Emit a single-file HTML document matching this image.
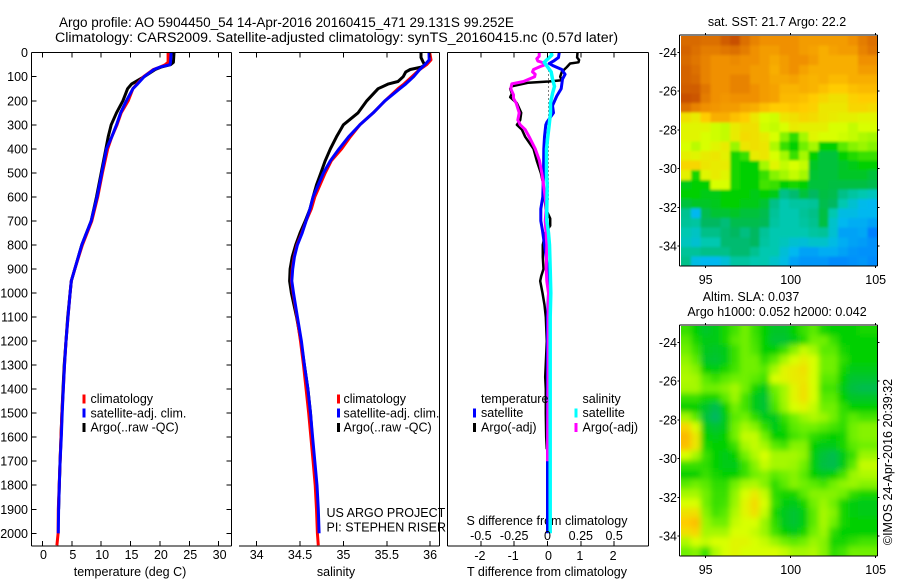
<!DOCTYPE html>
<html lang="en">
<head>
<meta charset="utf-8">
<title>Argo profile</title>
<style>
html,body{margin:0;padding:0;background:#fff;}
body{width:900px;height:580px;overflow:hidden;}
svg{display:block;font-family:"Liberation Sans",sans-serif;fill:#000;}
text{font-size:12.5px;}
</style>
</head>
<body>
<svg id="chart" width="900" height="580" viewBox="0 0 900 580" xmlns="http://www.w3.org/2000/svg">
<rect x="0" y="0" width="900" height="580" fill="#fff"/>
<text x="59" y="27" style="font-size:13.5px">Argo profile: AO 5904450_54 14-Apr-2016 20160415_471 29.131S 99.252E</text>
<text x="55" y="42" style="font-size:14.2px">Climatology: CARS2009. Satellite-adjusted climatology: synTS_20160415.nc (0.57d later)</text>
<text x="777" y="26" text-anchor="middle">sat. SST: 21.7 Argo: 22.2</text>
<text x="751" y="301" text-anchor="middle">Altim. SLA: 0.037</text>
<text x="777" y="316" text-anchor="middle">Argo h1000: 0.052 h2000: 0.042</text>
<text transform="translate(892,462) rotate(-90)" text-anchor="middle">©IMOS 24-Apr-2016 20:39:32</text>
<text x="130" y="576" text-anchor="middle">temperature (deg C)</text>
<text x="336" y="576" text-anchor="middle">salinity</text>
<text x="547" y="576" text-anchor="middle">T difference from climatology</text>
<text x="547" y="525" text-anchor="middle">S difference from climatology</text>
<text x="326.5" y="517">US ARGO PROJECT</text>
<text x="326.5" y="531.5">PI: STEPHEN RISER</text>
<defs>
<filter id="blurSst" x="-5%" y="-5%" width="110%" height="110%"><feGaussianBlur stdDeviation="1.3"/></filter>
<filter id="blurSla" x="-5%" y="-5%" width="110%" height="110%"><feGaussianBlur stdDeviation="3"/></filter>
<clipPath id="clipSst"><rect x="681" y="36" width="196.5" height="230"/></clipPath>
<clipPath id="clipSla"><rect x="681" y="326" width="196.5" height="230"/></clipPath>
</defs>
</svg>
<script>
// ---- profile data ----
const depthTemp = [0,40,50,60,70,100,130,150,200,250,300,350,400,500,600,700,800,900,950,1000,1100,1200,1300,1400,1500,1600,1700,1800,1900,2000,2050];
const tempArgo = [22.4,22.3,21.8,20.2,19.2,17.3,15.2,14.5,13.7,12.6,11.7,11.2,10.8,10.0,9.2,8.3,6.7,5.5,4.9,4.7,4.3,4.0,3.7,3.5,3.3,3.15,3.0,2.87,2.75];
const tempClim = [21.4,21.4,20.9,20.0,18.9,17.2,16.1,15.4,14.6,13.4,12.7,11.8,11.1,10.2,9.4,8.4,6.8,5.5,4.9,4.7,4.35,4.0,3.75,3.55,3.3,3.15,3.0,2.85,2.7,2.65,2.45];
const tempSat = [21.9,21.8,21.7,20.0,19.0,17.3,16.2,15.4,14.3,13.3,12.6,11.8,10.9,10.1,9.3,8.3,6.7,5.5,4.9,4.7,4.35,4.0,3.75,3.55,3.35,3.2,3.0,2.87,2.75,2.7];

const depthSal = [0,30,50,70,100,130,150,200,250,300,350,400,450,500,550,600,650,700,750,800,850,900,950,1000,1100,1200,1300,1400,1500,1600,1700,1800,1900,2000,2050];
const salClim = [35.995,36.01,35.96,35.88,35.79,35.70,35.63,35.48,35.345,35.19,35.08,34.98,34.86,34.79,34.73,34.67,34.63,34.57,34.52,34.465,34.43,34.41,34.40,34.42,34.465,34.505,34.54,34.57,34.60,34.625,34.65,34.675,34.69,34.70,34.71];
const salSat = [35.987,35.99,35.94,35.88,35.81,35.72,35.65,35.48,35.345,35.19,35.06,34.95,34.85,34.77,34.71,34.65,34.615,34.57,34.525,34.47,34.435,34.415,34.405,34.425,34.47,34.515,34.55,34.59,34.62,34.645,34.67,34.695,34.71,34.72];
const depthSalArgo = [0,20,40,50,60,70,80,100,120,130,150,200,250,300,350,400,450,500,550,600,650,700,750,800,850,900,950,1000,1100,1200,1300,1400,1500,1600,1700,1800,1900];
const salArgo = [35.895,35.895,35.92,35.94,35.90,35.77,35.72,35.69,35.63,35.52,35.40,35.27,35.17,35.0,34.92,34.85,34.79,34.74,34.69,34.65,34.615,34.56,34.50,34.45,34.41,34.385,34.38,34.40,34.46,34.51,34.55,34.59,34.62,34.64,34.665,34.69,34.70];

const depthDiffTempArgo = [0,20,30,40,45,60,80,100,115,120,125,140,150,170,185,210,250,280,300,320,350,400,450,500,550,600,650,690,720,750,800,850,900,930,950,1000,1050,1100,1200,1350,1400,1500,1600,1650];
const diffTempArgo = [0.90,0.89,0.95,0.93,0.68,0.58,0.43,0.38,0.43,0.03,-0.57,-1.07,-1.12,-1.07,-1.12,-0.92,-0.79,-0.82,-0.92,-0.77,-0.67,-0.42,-0.32,-0.2,-0.12,-0.09,-0.05,0.08,0.08,-0.07,-0.14,-0.14,-0.12,-0.19,-0.22,-0.15,-0.09,-0.05,-0.02,-0.07,-0.05,-0.05,-0.04,-0.02];
const depthDiffTempSat = [0,20,35,45,55,70,90,110,150,180,220,250,290,300,350,400,500,600,650,700,740,780,900,1000,1100,2000];
const diffTempSat = [0.35,0.33,0.18,0.05,0.18,0.43,0.53,0.45,0.41,0.28,0.15,0.18,-0.02,-0.05,-0.09,-0.11,-0.12,-0.14,-0.2,-0.2,-0.15,-0.11,0.01,0.03,0.0,0.0];
const depthDiffSalArgo = [0,15,25,35,42,50,55,70,80,90,100,120,130,150,175,190,210,250,280,300,320,350,400,450,500,550,600,650,700,800,900,950,1000,1100,1300,1700];
const diffSalArgo = [-0.0625,-0.0625,-0.08,-0.072,-0.03,-0.0175,-0.0425,-0.105,-0.1125,-0.0925,-0.097,-0.18,-0.2675,-0.275,-0.255,-0.255,-0.235,-0.2125,-0.2225,-0.205,-0.1675,-0.1375,-0.0925,-0.06,-0.0425,-0.03,-0.0175,-0.01,-0.0175,-0.005,-0.01,-0.005,0.0075,0.005,0.005,0.0];
const depthDiffSalSat = [0,10,30,40,55,80,110,140,170,210,250,300,350,400,500,550,650,700,750,800,900,1000,1100,2000];
const diffSalSat = [0.0275,0.0325,-0.005,-0.025,-0.005,0.0275,0.0375,0.0525,0.0375,0.0225,0.0225,0.0125,0.0025,-0.0075,-0.0075,-0.0025,-0.005,-0.005,0.0075,0.015,0.02,0.025,0.02,0.02];

// ---- tick labels ----
const depthTicks = [0,100,200,300,400,500,600,700,800,900,1000,1100,1200,1300,1400,1500,1600,1700,1800,1900,2000];
const tempTicks = [0,5,10,15,20,25,30];
const salTicks = [34,34.5,35,35.5,36];
const diffTempTicks = [-2,-1,0,1,2];
const diffSalTicks = [-0.5,-0.25,0,0.25,0.5];
const lonTicks = [95,100,105];
const latTicks = [24,26,28,30,32,34];

// ---- map data: colour-scale index, 0 (dark blue) .. 10 (red-orange) ----
const colorStops = ['#2020c0','#0080ff','#00b8f0','#00c8b0','#00b860','#00d000','#70f000','#d8ff00','#ffcc00','#f09000','#c85000'];
const sstGrid = [
[9.6,9.6,9.5,9.5,9.8,10,9.5,9.2,9.0,9.0,9.0,9.0,8.8,8.8,8.8,8.8,8.8,9.0,9.3,9.5],
[9.7,9.5,9.3,9.3,9.4,9.5,9.3,9.0,8.8,8.8,9.0,9.0,8.8,8.7,8.5,8.7,8.8,8.8,9.2,9.4],
[9.6,9.4,9.2,9.0,9.0,9.1,9.0,9.0,8.8,8.6,8.8,9.0,9.0,8.8,8.5,8.5,8.5,8.5,9.0,9.0],
[9.7,9.5,9.2,9.0,9.0,9.0,9.0,8.8,8.8,8.5,8.8,9.0,8.7,8.5,8.5,8.5,8.5,8.5,8.8,8.8],
[9.7,9.6,9.2,9.0,9.0,9.2,9.2,8.8,8.8,8.6,8.6,8.7,8.5,8.4,8.5,8.3,8.3,8.5,8.5,8.5],
[9.8,9.8,9.4,9.0,9.0,9.2,9.2,9.0,8.8,8.7,8.4,8.4,8.5,8.4,8.2,8.0,8.0,8.2,8.3,8.3],
[10,9.9,9.3,9.0,8.9,9.0,9.0,9.0,8.8,8.7,8.3,8.3,8.2,8.0,7.8,7.6,7.6,7.9,8.0,8.0],
[9.5,9.2,9.0,8.9,8.8,8.8,8.6,8.5,8.2,8.0,8.0,8.1,8.0,7.9,7.5,7.5,7.5,7.8,7.8,7.7],
[7.6,7.4,8.0,8.5,8.5,8.2,8.0,7.5,7.0,6.9,7.5,7.6,7.8,7.7,7.5,7.4,7.3,7.3,7.2,7.2],
[7.2,7.2,7.2,6.9,6.8,7.4,7.6,7.6,6.9,6.8,7.0,7.4,7.3,7.3,7.3,7.0,7.0,6.8,7.0,7.0],
[7.2,7.2,7.0,6.9,6.8,7.4,7.7,7.6,7.4,7.0,6.2,5.4,6.5,7.2,7.0,7.0,6.9,6.8,6.6,6.5],
[7.0,6.7,7.0,7.2,7.4,6.4,7.5,7.6,7.5,6.6,5.5,5.0,6.0,6.5,5.0,5.0,5.8,6.2,6.4,6.2],
[7.3,7.2,7.4,7.5,7.3,5.2,5.5,7.4,7.5,7.0,6.5,5.5,6.5,5.0,4.4,4.4,5.0,5.3,5.5,5.5],
[7.8,7.8,7.5,7.4,7.4,5.2,5.0,5.0,6.5,7.2,6.8,7.0,6.8,4.6,4.4,4.4,4.6,4.8,5.0,5.0],
[7.3,5.2,7.2,7.4,7.2,5.2,5.0,5.0,5.5,6.2,6.5,6.8,6.5,4.5,4.4,4.4,4.6,4.6,4.6,4.4],
[4.8,5.0,5.0,7.0,7.0,5.2,5.0,5.0,5.6,5.5,5.0,5.2,5.0,4.4,4.4,4.3,4.3,4.3,4.3,4.2],
[5.0,5.0,4.8,4.8,5.0,5.0,5.0,4.8,5.0,4.8,3.5,3.8,4.4,4.0,4.3,4.2,3.5,3.2,3.0,2.8],
[4.4,4.6,4.6,4.7,5.0,5.0,4.8,4.8,4.5,3.5,3.0,3.2,3.2,3.3,4.2,4.0,3.0,2.5,2.1,2.0],
[3.4,2.0,4.2,4.5,4.5,4.6,4.4,4.4,4.2,3.3,3.0,3.0,3.3,3.5,4.3,3.0,2.2,2.2,2.0,2.0],
[3.3,3.2,4.0,4.0,3.7,4.2,4.2,4.2,4.1,3.2,3.0,3.0,3.2,3.4,4.3,2.6,2.0,1.8,1.8,1.6],
[3.0,2.7,3.5,3.5,3.8,4.0,3.6,4.0,3.3,3.0,3.0,3.0,3.0,3.2,3.3,2.5,1.6,1.6,1.7,1.0],
[2.8,2.5,3.0,3.0,3.8,3.8,3.8,4.0,3.2,3.0,2.8,2.5,2.4,2.6,2.6,2.2,1.8,1.6,1.5,1.3],
[3.3,3.3,3.5,3.5,3.5,3.8,3.8,3.4,3.0,3.0,2.4,2.0,1.6,1.6,1.8,1.8,1.6,1.4,1.3,1.3],
[3.5,2.2,2.0,2.0,2.4,3.2,3.2,3.0,3.0,2.6,2.2,1.6,1.4,1.4,1.4,1.2,1.2,1.3,1.4,1.2]
];
const slaGrid = [
[5.5,5.0,4.6,4.8,5.2,5.6,6.0,5.5,5.0,4.6,4.6,5.0,5.5,5.8,5.2,5.0,5.0,5.0,5.2,5.2],
[5.8,5.2,4.8,4.8,5.2,5.8,6.0,5.6,5.0,4.5,4.5,4.8,5.3,6.0,6.0,5.5,5.0,5.0,5.0,5.0],
[6.0,5.5,4.7,4.6,4.8,5.5,6.0,5.7,5.0,5.0,5.5,6.2,6.8,6.5,5.8,5.8,5.2,5.0,5.0,5.0],
[6.3,5.8,4.6,4.5,4.8,5.5,6.0,6.0,5.4,5.8,6.5,7.0,7.3,7.0,6.0,6.0,5.4,5.0,5.0,5.0],
[6.5,6.2,5.0,4.9,5.2,5.6,6.0,6.0,5.8,6.5,7.2,7.4,7.6,7.0,6.0,6.0,5.2,4.8,4.8,4.8],
[6.6,6.5,5.8,5.5,5.8,6.0,6.0,5.8,5.6,7.0,7.2,7.4,7.5,7.0,5.8,5.8,5.0,4.5,4.5,4.5],
[6.5,6.5,6.0,6.0,6.2,6.5,6.0,5.2,4.8,6.0,6.5,7.2,7.6,7.0,5.6,5.6,4.8,4.3,4.2,4.2],
[5.5,5.5,5.2,5.2,5.8,6.4,5.6,4.8,4.5,5.8,6.5,7.2,7.6,7.0,5.8,5.8,5.0,4.6,4.6,4.6],
[5.0,5.0,4.6,4.2,5.0,6.0,5.6,4.8,4.5,5.6,6.4,7.0,7.2,6.8,6.0,6.0,5.4,5.0,5.0,5.0],
[6.5,5.8,4.4,4.0,4.8,5.8,6.0,5.4,4.8,4.7,5.5,6.0,6.4,6.6,6.4,6.0,5.5,5.8,5.6,5.6],
[7.8,7.0,4.8,4.5,4.8,6.0,6.5,6.2,5.4,4.8,5.2,5.8,6.0,6.0,5.8,5.6,5.4,6.0,6.2,6.2],
[8.3,7.5,5.0,4.8,5.0,6.0,6.8,6.8,6.0,5.0,5.0,5.6,5.8,5.4,5.2,5.0,5.2,6.0,6.2,6.2],
[8.2,7.5,5.2,5.0,5.0,5.5,6.5,6.8,6.5,5.8,5.6,6.2,6.2,5.0,4.8,4.8,5.2,5.8,6.0,6.0],
[7.0,6.5,5.5,5.0,4.8,5.0,6.0,6.6,7.0,6.5,6.5,6.5,6.3,4.9,4.4,4.2,4.8,5.5,6.4,6.4],
[5.5,5.5,5.4,5.0,4.8,4.8,5.5,6.2,6.8,6.5,6.5,6.4,6.0,4.9,4.3,4.2,4.8,5.8,6.8,6.8],
[5.0,5.0,5.5,5.2,5.0,5.0,5.5,6.0,6.2,5.8,6.0,6.2,5.8,5.0,4.8,5.0,5.6,6.4,6.6,6.6],
[5.8,6.0,5.8,5.4,5.4,6.0,6.5,6.6,6.2,5.4,5.8,6.2,6.0,5.8,5.6,6.0,6.3,6.4,6.2,6.2],
[6.5,6.5,6.0,5.5,5.5,6.3,7.0,7.4,6.8,5.4,5.2,5.2,5.8,6.2,6.2,6.2,6.0,5.4,5.2,5.2],
[7.0,7.0,6.0,5.5,5.6,6.4,7.2,7.7,7.0,5.5,4.9,4.8,5.2,6.0,6.4,6.0,5.2,4.9,4.8,4.8],
[7.6,7.6,6.2,5.6,5.8,6.6,7.2,7.6,6.8,5.2,4.7,4.5,4.9,5.8,6.5,6.2,5.2,4.9,4.8,4.8],
[8.0,8.2,6.4,6.0,6.0,6.8,7.0,7.0,6.4,5.4,4.7,4.5,4.9,5.8,6.5,6.0,5.2,5.0,5.0,5.0],
[7.6,7.8,6.5,6.5,6.5,7.0,7.0,6.8,6.4,5.6,5.0,4.8,5.2,6.0,6.4,5.4,5.0,5.0,5.0,5.0],
[6.6,7.0,6.8,7.0,7.0,7.2,7.2,7.0,6.8,6.4,6.0,5.8,6.0,6.4,6.2,5.2,5.2,5.4,5.6,5.6],
[6.0,6.2,5.5,6.6,7.0,7.2,7.0,7.0,7.0,7.0,6.8,6.5,6.5,6.6,6.2,5.4,5.6,6.0,6.0,6.0]
];

// ---- drawing ----
const svg = document.getElementById('chart');
const NS = 'http://www.w3.org/2000/svg';
const PLOT_TOP = 52.5, PLOT_BOTTOM = 546;

function yDepth(p){ return 52.7 + 0.2403 * p; }
function xTemp(t){ return 42.5 + 5.87 * t; }
function xSal(s){ return 256.7 + 86.7 * (s - 34); }
function xDiffT(d){ return 547.5 + 33.3 * d; }
function xDiffS(d){ return 547.5 + 133.3 * d; }

function make(tag, name, parent){
  const el = document.createElementNS(NS, tag);
  
  
  (parent || svg).appendChild(el);
  return el;
}
function seg(name, x1, y1, x2, y2, parent){
  const l = make('line', name, parent);
  l.setAttribute('x1', x1);
  l.setAttribute('y1', y1);
  l.setAttribute('x2', x2);
  l.setAttribute('y2', y2);
  l.setAttribute('stroke', '#000');
  l.setAttribute('stroke-width', 1);
  l.setAttribute('shape-rendering', 'crispEdges');
  return l;
}
function label(name, str, x, y, anchor, parent){
  const t = make('text', name, parent);
  t.setAttribute('x', x);
  t.setAttribute('y', y);
  t.setAttribute('text-anchor', anchor || 'start');
  t.textContent = str;
  return t;
}
function series(name, color, width, depths, vals, xf, parent){
  const p = make('polyline', name, parent);
  const pts = [];
  for (let i = 0; i < vals.length; i++) pts.push(xf(vals[i]).toFixed(1) + ',' + yDepth(depths[i]).toFixed(1));
  p.setAttribute('points', pts.join(' '));
  p.setAttribute('fill', 'none');
  p.setAttribute('stroke', color);
  p.setAttribute('stroke-width', width);
  p.setAttribute('stroke-linejoin', 'round');
  return p;
}
function swatch(name, color, x, y, parent){
  const r = make('rect', name, parent);
  r.setAttribute('x', x);
  r.setAttribute('y', y);
  r.setAttribute('width', 3);
  r.setAttribute('height', 9);
  r.setAttribute('fill', color);
  r.setAttribute('shape-rendering', 'crispEdges');
}

// panel 1: temperature
const gT = make('g', 'temperature-panel');
series('temperature-argo-line', '#000', 3, depthTemp, tempArgo, xTemp, gT);
series('temperature-climatology-line', '#f00', 3, depthTemp, tempClim, xTemp, gT);
series('temperature-satellite-line', '#00f', 3, depthTemp, tempSat, xTemp, gT);
seg('temperature-axis-top', 31.5, PLOT_TOP, 231.5, PLOT_TOP, gT);
seg('temperature-axis-bottom', 31.5, PLOT_BOTTOM, 231.5, PLOT_BOTTOM, gT);
seg('temperature-axis-left', 31.5, PLOT_TOP, 31.5, PLOT_BOTTOM, gT);
seg('temperature-axis-right', 231.5, PLOT_TOP, 231.5, PLOT_BOTTOM, gT);
depthTicks.forEach(function(p){
  const y = yDepth(p);
  seg('depth-tick-left', 31.5, y, 36.5, y, gT);
  seg('depth-tick-right', 226.5, y, 231.5, y, gT);
  label('depth-tick-label', String(p), 28, y + 4.5, 'end', gT);
});
tempTicks.forEach(function(t){
  const x = xTemp(t);
  seg('temperature-tick-bottom', x, 541, x, PLOT_BOTTOM, gT);
  seg('temperature-tick-top', x, PLOT_TOP, x, 57.5, gT);
  label('temperature-tick-label', String(t), x + 1, 559, 'middle', gT);
});
const legendT = make('g', 'temperature-legend', gT);
swatch('legend-swatch-climatology', '#f00', 82.5, 394.5, legendT);
label('legend-label-climatology', 'climatology', 90.5, 403, 'start', legendT);
swatch('legend-swatch-satellite', '#00f', 82.5, 408.5, legendT);
label('legend-label-satellite', 'satellite-adj. clim.', 90.5, 417.5, 'start', legendT);
swatch('legend-swatch-argo', '#000', 82.5, 423, legendT);
label('legend-label-argo', 'Argo(..raw -QC)', 90.5, 431.5, 'start', legendT);

// panel 2: salinity
const gS = make('g', 'salinity-panel');
series('salinity-argo-line', '#000', 3, depthSalArgo, salArgo, xSal, gS);
series('salinity-climatology-line', '#f00', 3, depthSal, salClim, xSal, gS);
series('salinity-satellite-line', '#00f', 3, depthSal, salSat, xSal, gS);
seg('salinity-axis-top', 239, PLOT_TOP, 439.5, PLOT_TOP, gS);
seg('salinity-axis-bottom', 239, PLOT_BOTTOM, 439.5, PLOT_BOTTOM, gS);
seg('salinity-axis-right', 439.5, PLOT_TOP, 439.5, PLOT_BOTTOM, gS);
salTicks.forEach(function(s){
  const x = xSal(s);
  seg('salinity-tick-bottom', x, 541, x, PLOT_BOTTOM, gS);
  seg('salinity-tick-top', x, PLOT_TOP, x, 57.5, gS);
  label('salinity-tick-label', String(s), x, 559, 'middle', gS);
});
const legendS = make('g', 'salinity-legend', gS);
swatch('legend-swatch-climatology', '#f00', 337, 394.5, legendS);
label('legend-label-climatology', 'climatology', 343.5, 403, 'start', legendS);
swatch('legend-swatch-satellite', '#00f', 337, 408.5, legendS);
label('legend-label-satellite', 'satellite-adj. clim.', 343.5, 417.5, 'start', legendS);
swatch('legend-swatch-argo', '#000', 337, 423, legendS);
label('legend-label-argo', 'Argo(..raw -QC)', 343.5, 431.5, 'start', legendS);

// panel 3: differences
const gD = make('g', 'difference-panel');
const zero = seg('zero-difference-line', xDiffT(0) + 1, yDepth(40), xDiffT(0) + 1, yDepth(620), gD);
zero.setAttribute('stroke-dasharray', '1 3');
series('t-diff-argo-line', '#000', 2.5, depthDiffTempArgo, diffTempArgo, xDiffT, gD);
series('t-diff-satellite-line', '#00f', 3, depthDiffTempSat, diffTempSat, xDiffT, gD);
series('s-diff-argo-line', '#f0f', 3, depthDiffSalArgo, diffSalArgo, xDiffS, gD);
series('s-diff-satellite-line', '#0ff', 3.5, depthDiffSalSat, diffSalSat, xDiffS, gD);
seg('difference-axis-top', 447.5, PLOT_TOP, 648.5, PLOT_TOP, gD);
seg('difference-axis-bottom', 447.5, PLOT_BOTTOM, 648.5, PLOT_BOTTOM, gD);
seg('difference-axis-left', 447.5, PLOT_TOP, 447.5, PLOT_BOTTOM, gD);
seg('difference-axis-right', 648.5, PLOT_TOP, 648.5, PLOT_BOTTOM, gD);
diffTempTicks.forEach(function(d){
  const x = xDiffT(d);
  seg('t-difference-tick-bottom', x, 541, x, PLOT_BOTTOM, gD);
  seg('t-difference-tick-top', x, PLOT_TOP, x, 57.5, gD);
  label('t-difference-tick-label', String(d), x + (d === 0 ? 1 : -1), 560, 'middle', gD);
});
diffSalTicks.forEach(function(d){
  label('s-difference-tick-label', String(d), xDiffS(d), 540, 'middle', gD);
});
const legendD = make('g', 'difference-legend', gD);
label('legend-heading-temperature', 'temperature', 481, 403, 'start', legendD);
swatch('legend-swatch-t-satellite', '#00f', 473, 408.5, legendD);
label('legend-label-t-satellite', 'satellite', 481, 417, 'start', legendD);
swatch('legend-swatch-t-argo', '#000', 473, 423, legendD);
label('legend-label-t-argo', 'Argo(-adj)', 481, 431.5, 'start', legendD);
label('legend-heading-salinity', 'salinity', 582.5, 403, 'start', legendD);
swatch('legend-swatch-s-satellite', '#0ff', 574.5, 408.5, legendD);
label('legend-label-s-satellite', 'satellite', 582.5, 417, 'start', legendD);
swatch('legend-swatch-s-argo', '#f0f', 574.5, 423, legendD);
label('legend-label-s-argo', 'Argo(-adj)', 582.5, 431.5, 'start', legendD);

// maps
function colorOf(v){
  const c = Math.max(0, Math.min(10, v));
  const i = Math.min(9, Math.floor(c));
  const f = c - i;
  const a = colorStops[i], b = colorStops[i + 1];
  let out = '#';
  for (let k = 1; k < 7; k += 2) {
    const va = parseInt(a.substr(k, 2), 16), vb = parseInt(b.substr(k, 2), 16);
    out += Math.round(va + (vb - va) * f).toString(16).padStart(2, '0');
  }
  return out;
}
function xLon(lon){ return 705.7 + 17 * (lon - 95); }
function drawMap(prefix, grid, top, lat24y, clipId, blurId){
  const g = make('g', prefix + '-map');
  const left = 681, right = 877.5, bottom = top + 231;
  const nr = grid.length, nc = grid[0].length;
  const cw = (right - left) / nc, ch = (bottom - top - 1) / nr;
  const clip = make('g', prefix + '-map-clip', g);
  clip.setAttribute('clip-path', 'url(#' + clipId + ')');
  const cells = make('g', prefix + '-cells', clip);
  cells.setAttribute('filter', 'url(#' + blurId + ')');
  const bleed = 14;
  for (let r = 0; r < nr; r++) {
    for (let c = 0; c < nc; c++) {
      const x0 = left + c * cw - (c === 0 ? bleed : 0);
      const x1 = left + (c + 1) * cw + (c === nc - 1 ? bleed : 0.5);
      const y0 = top + 1 + r * ch - (r === 0 ? bleed : 0);
      const y1 = top + 1 + (r + 1) * ch + (r === nr - 1 ? bleed : 0.5);
      const cell = make('rect', prefix + '-cell', cells);
      cell.setAttribute('x', x0.toFixed(2));
      cell.setAttribute('y', y0.toFixed(2));
      cell.setAttribute('width', (x1 - x0).toFixed(2));
      cell.setAttribute('height', (y1 - y0).toFixed(2));
      cell.setAttribute('fill', colorOf(grid[r][c]));
      cell.setAttribute('shape-rendering', 'crispEdges');
    }
  }
  seg(prefix + '-frame-top', 679.5, top, 877.5, top, g);
  seg(prefix + '-frame-bottom', 679.5, bottom, 877.5, bottom, g);
  seg(prefix + '-frame-left', 679.5, top, 679.5, bottom, g);
  seg(prefix + '-frame-right', 877.5, top, 877.5, bottom, g);
  lonTicks.forEach(function(lon){
    const x = xLon(lon);
    seg(prefix + '-lon-tick-top', x, top - 2, x, top, g);
    seg(prefix + '-lon-tick-bottom', x, bottom, x, bottom + 2, g);
    label(prefix + '-lon-tick-label', String(lon), x, bottom + 18, 'middle', g);
  });
  latTicks.forEach(function(lat){
    const y = lat24y + 19.37 * (lat - 24);
    seg(prefix + '-lat-tick-left', 677.5, y, 679.5, y, g);
    seg(prefix + '-lat-tick-right', 877.5, y, 879.5, y, g);
    label(prefix + '-lat-tick-label', '-' + lat, 677, y + 4.5, 'end', g);
  });
}
drawMap('sst', sstGrid, 35, 52.3, 'clipSst', 'blurSst');
drawMap('sla', slaGrid, 325, 342.3, 'clipSla', 'blurSla');
</script>
</body>
</html>
